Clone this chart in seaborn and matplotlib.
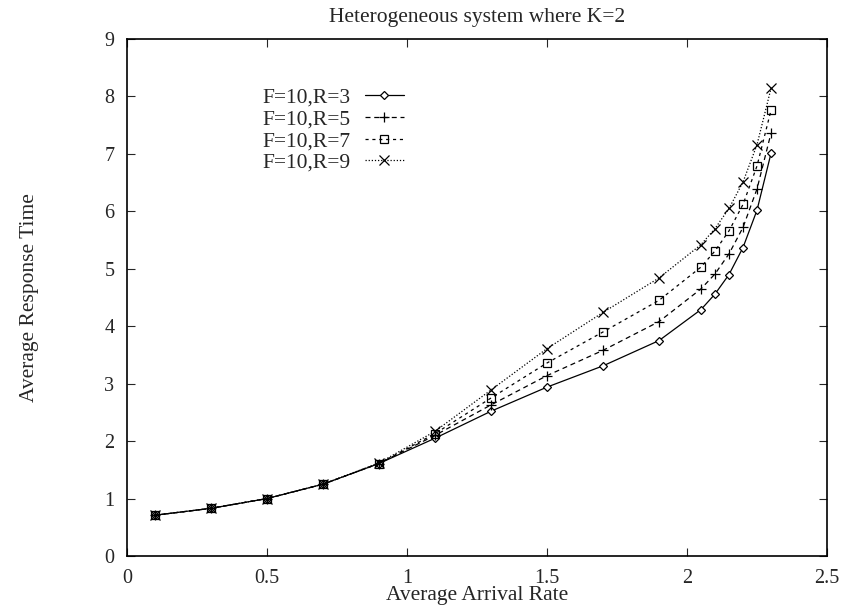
import numpy as np
import pandas as pd
import matplotlib
matplotlib.use("Agg")
from matplotlib import pyplot as plt
import seaborn as sns

# Arrival rates (x) and response times
arrival_rate = [0.1, 0.3, 0.5, 0.7, 0.9, 1.1, 1.3, 1.5, 1.7, 1.9, 2.05, 2.1, 2.15, 2.2, 2.25, 2.3]

resp_R3 = [0.71, 0.83, 1.00, 1.25, 1.61, 2.05, 2.52, 2.94, 3.31, 3.75, 4.29, 4.56, 4.90, 5.37, 6.02, 7.01]
resp_R5 = [0.71, 0.83, 1.00, 1.25, 1.61, 2.10, 2.63, 3.14, 3.58, 4.08, 4.65, 4.91, 5.26, 5.72, 6.39, 7.36]
resp_R7 = [0.71, 0.83, 1.00, 1.25, 1.61, 2.13, 2.75, 3.36, 3.90, 4.45, 5.03, 5.31, 5.66, 6.12, 6.79, 7.76]
resp_R9 = [0.71, 0.83, 1.00, 1.25, 1.62, 2.17, 2.89, 3.61, 4.24, 4.84, 5.42, 5.70, 6.05, 6.51, 7.16, 8.14]

series_labels = ["F=10,R=3", "F=10,R=5", "F=10,R=7", "F=10,R=9"]
x_ticks = [0, 0.5, 1, 1.5, 2, 2.5]
y_ticks = list(range(0, 10))

sns.set_style("ticks")
plt.rcParams['font.family'] = ['Liberation Serif', 'DejaVu Serif']
plt.rcParams['xtick.direction'] = 'in'
plt.rcParams['ytick.direction'] = 'in'

df = pd.DataFrame({
    'rate': arrival_rate * 4,
    'resp': resp_R3 + resp_R5 + resp_R7 + resp_R9,
    'series': sum([[lab] * len(arrival_rate) for lab in series_labels], []),
})

# gnuplot-like styles: solid/diamond, dashed/plus, short dash/square, dotted/x
styles = {
    "F=10,R=3": dict(marker='D', ls='-', ms=4.5, mfc='white'),
    "F=10,R=5": dict(marker='+', ls=(0, (4, 3)), ms=7, mfc='none'),
    "F=10,R=7": dict(marker='s', ls=(0, (2.5, 3)), ms=6, mfc='none'),
    "F=10,R=9": dict(marker='x', ls=(0, (1, 1.5)), ms=7, mfc='none'),
}

fig = plt.figure(figsize=(8.42, 6.12), dpi=100)
ax = fig.add_axes([0.1508, 0.0915, 0.8314, 0.8448])

for lab in series_labels:
    st = styles[lab]
    sns.lineplot(data=df[df['series'] == lab], x='rate', y='resp', ax=ax,
                 color='black', linewidth=0.9, linestyle=st['ls'],
                 marker=st['marker'], markersize=st['ms'],
                 markerfacecolor=st['mfc'], markeredgecolor='black',
                 markeredgewidth=0.9, label=lab)

ax.set_xlim(0, 2.5)
ax.set_ylim(0, 9)
ax.set_xticks(x_ticks)
ax.set_xticklabels(['0', '0.5', '1', '1.5', '2', '2.5'])
ax.set_yticks(y_ticks)
ax.tick_params(axis='both', which='both', top=True, right=True, length=6,
               width=0.8, labelsize=14.5, pad=9)
for sp in ax.spines.values():
    sp.set_linewidth(1.2)
    sp.set_color('black')

ax.set_title("Heterogeneous system where K=2", fontsize=15.5, pad=12)
ax.set_xlabel("Average Arrival Rate", fontsize=15.5, labelpad=-1)
ax.set_ylabel("Average Response Time", fontsize=15.5, labelpad=47)

ax.legend(loc='upper left', bbox_to_anchor=(0.194, 0.906), frameon=False,
          markerfirst=False, fontsize=15.5, handlelength=1.8, labelspacing=0.08,
          handletextpad=0.65, borderpad=0, borderaxespad=0)

fig.savefig("out.png", dpi=100)
